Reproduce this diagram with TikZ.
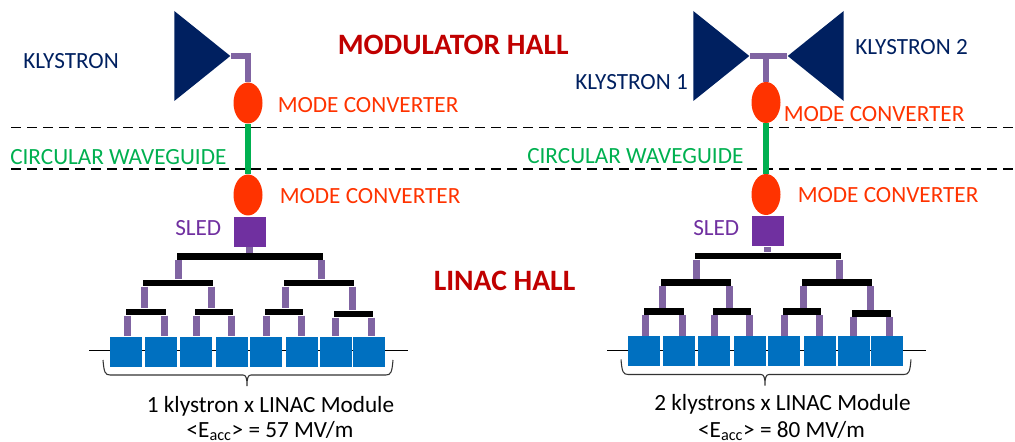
\documentclass[tikz,border=0pt]{standalone}
\usepackage{fontspec}
\usepackage{xcolor}
\setmainfont{Carlito}
\usetikzlibrary{shapes.geometric}
\definecolor{marinho}{HTML}{002060}
\definecolor{laranja}{HTML}{FF3300}
\definecolor{roxo}{HTML}{7030A0}
\definecolor{lilas}{HTML}{8064A2}
\definecolor{verde}{HTML}{00B050}
\definecolor{azul}{HTML}{0070C0}
\definecolor{vermelho}{HTML}{C00000}
\newcommand{\tam}[1]{\fontsize{#1}{#1}\selectfont}
\tikzset{
  rotulo/.style={anchor=base west, inner sep=0pt, font=\tam{17.4}},
  titulo/.style={anchor=base west, inner sep=0pt, font=\tam{22.2}\bfseries, text=vermelho},
  legenda/.style={anchor=base, inner sep=0pt, font=\tam{17.4}},
  klystron/.style={shape=isosceles triangle, isosceles triangle stretches, fill=marinho, inner sep=0pt, minimum width=67.5pt, minimum height=42pt, shape border rotate=#1},
  conversor/.style={ellipse, fill=laranja, inner sep=0pt, minimum width=21.75pt, minimum height=30.75pt},
  sled/.style={rectangle, fill=roxo, inner sep=0pt, minimum width=24pt, minimum height=22.5pt},
  modulo/.style={rectangle, fill=azul, inner sep=0pt, minimum width=24pt, minimum height=22.5pt},
  barra/.style={rectangle, fill=black, inner sep=0pt, minimum width=#1, minimum height=5pt},
  guia/.style={draw=lilas, line width=5pt},
  circular/.style={draw=verde, line width=4.8pt},
  limite/.style={draw=black, line width=1pt, dash pattern=on 7.5pt off 4.5pt},
  chave/.style={draw=black!80, line width=0.8pt},
}
\begin{document}
\begin{tikzpicture}[x=0.75pt,y=-0.75pt]
  \useasboundingbox (0,0) rectangle (1015,442);

  \coordinate (h1) at (11,127.5);
  \coordinate (h2) at (1015,127.5);
  \coordinate (h3) at (11,169);
  \coordinate (h4) at (1015,169);
  \draw[limite] (h1) -- (h2);
  \draw[limite] (h3) -- (h4);

  \foreach \col/\dx/\dy in {A/0/0,B/518/-0.5} {
    \begin{scope}[shift={(\dx,\dy)}]
      \node[conversor] (c1\col) at (248,103) {};
      \node[conversor] (c2\col) at (248,195) {};
      \node[sled] (s\col) at (249.7,232) {};
      \draw[circular] (c1\col.south) -- (c2\col.north);

      % linha atras dos modulos
      \coordinate (e\col) at (89,350.7);
      \coordinate (d\col) at (408,350.7);
      \draw[black, line width=0.8pt] (e\col) -- (d\col);
      \foreach \i/\mx in {1/125.8,2/161.2,3/196.3,4/231.5,5/266.3,6/301.7,7/335.5,8/369} {
        \node[modulo] (m\i\col) at (\mx,351.7) {};
      }

      \node[barra=109.5pt] (r\col) at (250,256.5) {};
      \node[barra=52.5pt] (r1\col) at (178,283) {};
      \node[barra=52.5pt] (r2\col) at (319,283) {};
      \node[barra=30pt] (q1\col) at (146,312) {};
      \node[barra=28.5pt] (q2\col) at (214,312) {};
      \node[barra=28.5pt] (q3\col) at (284,312) {};
      \node[barra=29.25pt] (q4\col) at (353.5,314) {};

      \foreach \b/\l/\r in {r/r1/r2,r1/q1/q2,r2/q3/q4,q1/m1/m2,q2/m3/m4,q3/m5/m6,q4/m7/m8} {
        \draw[guia] ([xshift=1.5pt]\b\col.south west) -- ([xshift=1.5pt]\b\col.south west |- \l\col.north);
        \draw[guia] ([xshift=-1.5pt]\b\col.south east) -- ([xshift=-1.5pt]\b\col.south east |- \r\col.north);
      }
      \draw[guia] (s\col.south) -- (s\col.south |- r\col.north);

      % chave sob os modulos
      \draw[chave] (103,360) .. controls (104,372) and (105,375) .. (110,375) -- (243,375)
        .. controls (246,375) and (247,378) .. (247,386)
        .. controls (247,378) and (248,375) .. (251,375) -- (386,375)
        .. controls (391,375) and (392,372) .. (393,360);
    \end{scope}
  }

  % klystron esquerdo
  \coordinate (ka) at (231,56);
  \draw[guia] (ka) -| (c1A.north);
  \node[klystron=0, anchor=apex] (k) at (ka) {};

  % dois klystrons
  \coordinate (kb) at (750,56);
  \coordinate (kc) at (787,56);
  \draw[guia] (kb) -- (kc);
  \draw[guia] (c1B.north) -- (c1B.north |- kb);
  \node[klystron=0, anchor=apex] (k1) at (kb) {};
  \node[klystron=180, anchor=apex] (k2) at (kc) {};

  \node[titulo] (tm) at (337.5,55) {MODULATOR HALL};
  \node[titulo] (tl) at (433.5,291) {LINAC HALL};

  \node[rotulo, text=marinho] (lk) at (23,69) {KLYSTRON};
  \node[rotulo, text=marinho] (lk1) at (575,90) {KLYSTRON 1};
  \node[rotulo, text=marinho] (lk2) at (855,55) {KLYSTRON 2};
  \node[rotulo, text=laranja] (lc1) at (277.5,113) {MODE CONVERTER};
  \node[rotulo, text=laranja] (lc2) at (279.5,204) {MODE CONVERTER};
  \node[rotulo, text=laranja] (lc3) at (783.5,122) {MODE CONVERTER};
  \node[rotulo, text=laranja] (lc4) at (797.5,203) {MODE CONVERTER};
  \node[rotulo, text=verde] (lg1) at (10,165) {CIRCULAR WAVEGUIDE};
  \node[rotulo, text=verde] (lg2) at (527,164) {CIRCULAR WAVEGUIDE};
  \node[rotulo, text=roxo] (ls1) at (175,236) {SLED};
  \node[rotulo, text=roxo] (ls2) at (693,236) {SLED};

  \node[legenda] (t1) at (270.5,412) {1 klystron x LINAC Module};
  \node[legenda] (e1) at (270,437.5) {<E\textsubscript{acc}> = 57 MV/m};
  \node[legenda] (t2) at (782.5,411) {2 klystrons x LINAC Module};
  \node[legenda] (e2) at (781.5,437.5) {<E\textsubscript{acc}> = 80 MV/m};
\end{tikzpicture}
\end{document}
